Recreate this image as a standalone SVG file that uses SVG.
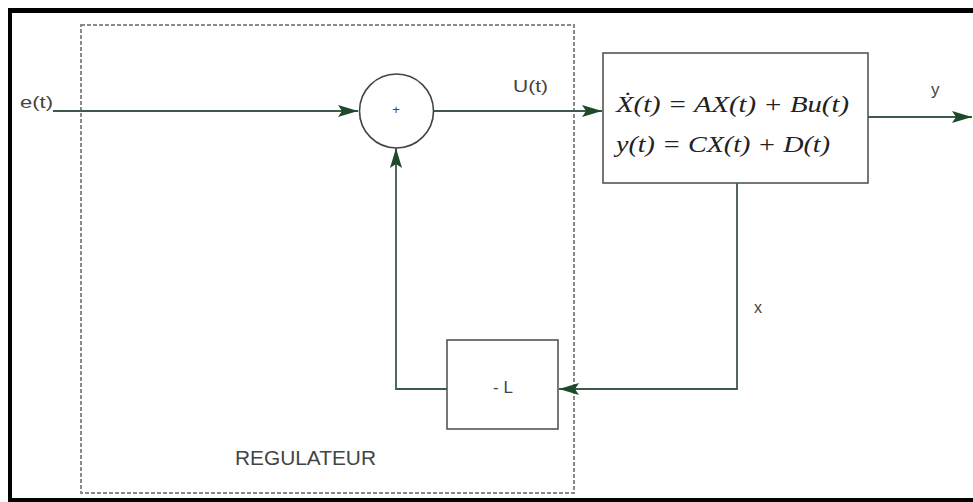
<svg xmlns="http://www.w3.org/2000/svg" width="973" height="502" viewBox="0 0 973 502">
<defs>
<style>
.frame{fill:none;stroke:#000;}
.dash{fill:none;stroke:#8a8a8a;stroke-width:2;stroke-dasharray:4 2;}
.box{fill:#fff;stroke:#555;stroke-width:1.6;}
.wire{fill:none;stroke:#3e5a4a;stroke-width:1.8;}
.lbl{font-family:"Liberation Sans",Arial,sans-serif;fill:#444;}
.eq{font-family:"Liberation Serif","Times New Roman",serif;font-style:italic;font-size:23px;fill:#222;}
</style>
<marker id="arr" viewBox="0 0 20 12" refX="20" refY="6" markerWidth="20" markerHeight="12" markerUnits="userSpaceOnUse" orient="auto">
<path d="M0,0 L20,6 L0,12 L4,6 Z" fill="#1e4a2a"/>
</marker>
</defs>
<rect width="973" height="502" fill="#fff"/>
<g id="frame">
<line class="frame" x1="10" y1="8" x2="10" y2="502" stroke-width="4"/>
<line class="frame" x1="8" y1="10.5" x2="973" y2="10.5" stroke-width="5"/>
<line class="frame" x1="8" y1="500" x2="973" y2="500" stroke-width="4"/>
</g>
<g id="regulateur">
<rect class="dash" x="81" y="25" width="493" height="468"/>
<text class="lbl" x="235" y="465" font-size="20" textLength="141" lengthAdjust="spacingAndGlyphs">REGULATEUR</text>
</g>
<g id="connectors">
<path class="wire" d="M53,111 H358" marker-end="url(#arr)"/>
<path class="wire" d="M434,111 H602" marker-end="url(#arr)"/>
<path class="wire" d="M868,117 H972" marker-end="url(#arr)"/>
<path class="wire" d="M737,183 V389 H559" marker-end="url(#arr)"/>
<path class="wire" d="M447,389 H396 V148" marker-end="url(#arr)"/>
</g>
<g id="sum">
<circle cx="396.5" cy="111" r="37" fill="#fff" stroke="#444" stroke-width="1.6"/>
<text class="lbl" x="396" y="114" font-size="13" text-anchor="middle">+</text>
</g>
<g id="plant">
<rect class="box" x="603" y="53" width="265" height="130"/>
<text class="eq" x="616" y="112" textLength="233" lengthAdjust="spacingAndGlyphs">Ẋ(t) = AX(t) + Bu(t)</text>
<text class="eq" x="616" y="152" textLength="214" lengthAdjust="spacingAndGlyphs">y(t) = CX(t) + D(t)</text>
</g>
<g id="gain">
<rect class="box" x="447" y="340" width="111" height="89"/>
<text class="lbl" x="503" y="393" font-size="17" text-anchor="middle">- L</text>
</g>
<g id="labels">
<text class="lbl" x="20" y="108" font-size="17" textLength="33" lengthAdjust="spacingAndGlyphs">e(t)</text>
<text class="lbl" x="513" y="92" font-size="17" textLength="35" lengthAdjust="spacingAndGlyphs">U(t)</text>
<text class="lbl" x="931" y="95" font-size="17">y</text>
<text class="lbl" x="754" y="313" font-size="16">x</text>
</g>
</svg>
